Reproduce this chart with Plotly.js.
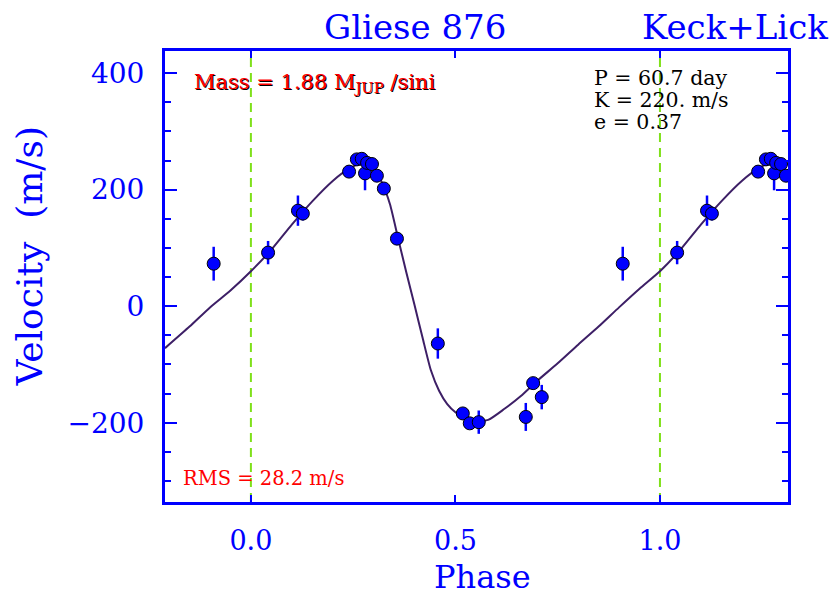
<!DOCTYPE html>
<html>
<head>
<meta charset="utf-8">
<script src="https://cdn.plot.ly/plotly-3.0.1.min.js"></script>
<style>html,body{margin:0;padding:0;background:#fff;}</style>
</head>
<body>
<div id="chart" style="width:837px;height:595px;"></div>
<script>
// Observed radial-velocity points (phase in [0,1)), read from the picture
const obsPhase = [0.042, 0.115, 0.127, 0.240, 0.259, 0.271, 0.279, 0.284, 0.296, 0.308, 0.325, 0.357, 0.457, 0.518, 0.535, 0.557, 0.672, 0.690, 0.711, 0.909];
const obsVel   = [92, 164, 159, 231, 252, 253, 228, 246, 244, 224, 202, 116, -64, -184, -201, -199, -190, -132, -156, 73];
const obsErr   = [20, 26, 12, 8, 8, 8, 29, 8, 8, 8, 8, 10, 26, 8, 8, 20, 24, 8, 21, 29];

// Orbital fit curve
const curvePhase = [-0.21,-0.15,-0.10,-0.05,0,0.05,0.10,0.15,0.20,0.24,0.27,0.30,0.32,0.34,0.36,0.38,0.40,0.42,0.44,0.46,0.48,0.50,0.52,0.55,0.58,0.62,0.66,0.70,0.75,0.80,0.85,0.90,0.95,1.0,1.05,1.10,1.15,1.20,1.24,1.27,1.30,1.32];
const curveVel   = [-72,-35,-2,27,60,97,140,180,215,236,246,237,213,175,116,58,2,-55,-110,-145,-168,-182,-190,-196,-195,-176,-154,-128,-98,-66,-35,-2,30,60,97,140,180,215,236,246,237,213];

const xRange = [-0.21, 1.313];
const yRange = [-336, 438];
const xTicks = [0, 0.5, 1.0];
const xTickText = ['0.0', '0.5', '1.0'];
const yTicks = [-200, 0, 200, 400];

const titleText = 'Gliese 876';
const sourceText = 'Keck+Lick';
const massText = 'Mass = 1.88 M<sub>JUP</sub> /sini';
const rmsText = 'RMS = 28.2 m/s';
const paramText = ['P = 60.7 day', 'K = 220. m/s', 'e = 0.37'];

// phase-fold: show each observation again one cycle earlier/later where it falls in the window
const px = [], py = [], pe = [];
obsPhase.forEach((p, i) => {
  [p - 1, p, p + 1].forEach(q => {
    if (q >= xRange[0] - 0.005 && q <= xRange[1] + 0.005) {
      px.push(q); py.push(obsVel[i]); pe.push(obsErr[i]);
    }
  });
});

const BLUE = '#0000ff';
const SERIF = 'DejaVu Serif, serif';

const traces = [
  {
    x: curvePhase, y: curveVel, type: 'scatter', mode: 'lines',
    line: {color: '#3d1f66', width: 2, shape: 'spline', smoothing: 0.6},
    hoverinfo: 'skip'
  },
  {
    x: px, y: py, type: 'scatter', mode: 'markers',
    marker: {color: BLUE, size: 13, line: {color: '#000', width: 1}},
    error_y: {type: 'data', array: pe, visible: true, color: BLUE, thickness: 2.5, width: 0}
  }
];

const dashLine = v => ({
  type: 'line', xref: 'x', yref: 'paper', x0: v, x1: v, y0: 0, y1: 1,
  line: {color: '#7fe01a', width: 2, dash: '9px,6px'}, layer: 'below'
});

const ann = [];
ann.push({text: titleText, xref: 'paper', yref: 'paper', x: 0.401, y: 1.053, xanchor: 'center', yanchor: 'middle', showarrow: false, font: {family: SERIF, size: 34, color: BLUE}});
ann.push({text: sourceText, xref: 'paper', yref: 'paper', x: 1.067, y: 1.053, xanchor: 'right', yanchor: 'middle', showarrow: false, font: {family: SERIF, size: 34, color: BLUE}});
ann.push({text: 'Velocity  (m/s)', xref: 'paper', yref: 'paper', x: -0.218, y: 0.545, xanchor: 'center', yanchor: 'middle', textangle: -90, showarrow: false, font: {family: SERIF, size: 36, color: BLUE}});
ann.push({text: 'Phase', xref: 'paper', yref: 'paper', x: 0.51, y: -0.166, xanchor: 'center', yanchor: 'middle', showarrow: false, font: {family: SERIF, size: 32, color: BLUE}});
// mass label with dark shadow
ann.push({text: massText, xref: 'paper', yref: 'paper', x: 0.0433, y: 0.929, xanchor: 'left', yanchor: 'middle', xshift: 1, yshift: -1, showarrow: false, font: {family: SERIF, size: 21, color: '#000'}});
ann.push({text: massText, xref: 'paper', yref: 'paper', x: 0.0433, y: 0.929, xanchor: 'left', yanchor: 'middle', showarrow: false, font: {family: SERIF, size: 21, color: '#ff0000'}});
ann.push({text: rmsText, xref: 'paper', yref: 'paper', x: 0.0257, y: 0.053, xanchor: 'left', yanchor: 'middle', showarrow: false, font: {family: SERIF, size: 19.5, color: '#ff0000'}});
const paramY = [0.94, 0.891, 0.842];
paramText.forEach((t, i) => ann.push({text: t, xref: 'paper', yref: 'paper', x: 0.685, y: paramY[i], xanchor: 'left', yanchor: 'middle', showarrow: false, font: {family: SERIF, size: 20.5, color: '#000'}}));

const layout = {
  width: 837, height: 595,
  margin: {l: 165, r: 49, t: 51, b: 93},
  paper_bgcolor: '#fff', plot_bgcolor: '#fff',
  showlegend: false,
  xaxis: {
    range: xRange, tickmode: 'array', tickvals: xTicks, ticktext: xTickText,
    ticks: 'inside', ticklen: 7, tickwidth: 2, tickcolor: BLUE,
    showline: true, linecolor: BLUE, linewidth: 3, mirror: 'ticks',
    showgrid: false, zeroline: false,
    tickfont: {family: SERIF, size: 27, color: BLUE}, ticklabelstandoff: 13
  },
  yaxis: {
    range: yRange, tickmode: 'array', tickvals: yTicks,
    ticks: 'inside', ticklen: 12, tickwidth: 2, tickcolor: BLUE,
    minor: {tickmode: 'linear', tick0: 0, dtick: 50, ticks: 'inside', ticklen: 6, tickwidth: 2, tickcolor: BLUE, showgrid: false},
    showline: true, linecolor: BLUE, linewidth: 3, mirror: 'ticks',
    showgrid: false, zeroline: false,
    tickfont: {family: SERIF, size: 28, color: BLUE}, ticklabelstandoff: 12
  },
  shapes: [dashLine(0), dashLine(1)],
  annotations: ann
};

Plotly.newPlot('chart', traces, layout, {displayModeBar: false, staticPlot: true});
</script>
</body>
</html>
